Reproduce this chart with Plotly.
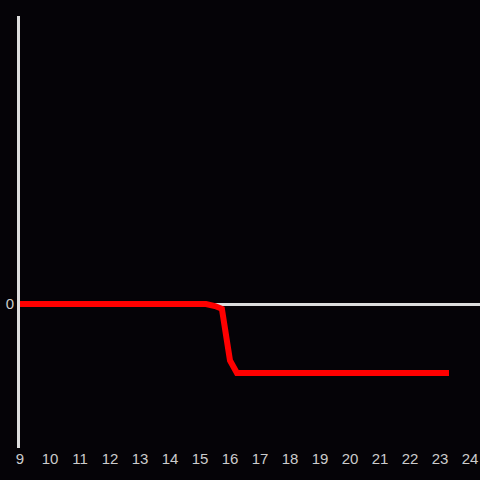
import plotly.graph_objects as go

x_vals = [9, 15.2, 15.5, 15.73, 16.0, 16.23, 23.3]
y_vals = [0, 0, -0.03, -0.07, -0.82, -1.0, -1.0]
x_ticks = list(range(9, 25))

fig = go.Figure()
fig.add_trace(go.Scatter(x=x_vals, y=y_vals, mode="lines",
                         line=dict(color="#ff0000", width=6), hoverinfo="skip"))

fig.update_layout(
    width=480, height=480,
    margin=dict(l=20, r=0, t=16, b=32, autoexpand=False),
    paper_bgcolor="#050307", plot_bgcolor="#050307",
    showlegend=False,
    font=dict(family="Liberation Sans, Arial, sans-serif", size=15, color="#cccccc"),
    xaxis=dict(range=[9, 24.333], tickvals=x_ticks, showgrid=False, zeroline=False,
               showline=False, ticks="", ticklen=0, tickfont=dict(size=15, color="#cccccc")),
    yaxis=dict(range=[-2.087, 4.174], tickvals=[0], showgrid=False,
               zeroline=True, zerolinecolor="#dddddd", zerolinewidth=3,
               showline=True, linecolor="#dddddd", linewidth=3, ticks="",
               tickfont=dict(size=15, color="#cccccc")),
)
fig.write_html("out.html", config={"displayModeBar": False},
               post_script="document.body.style.margin='0';document.body.style.background='#050307';document.body.style.overflow='hidden';")
